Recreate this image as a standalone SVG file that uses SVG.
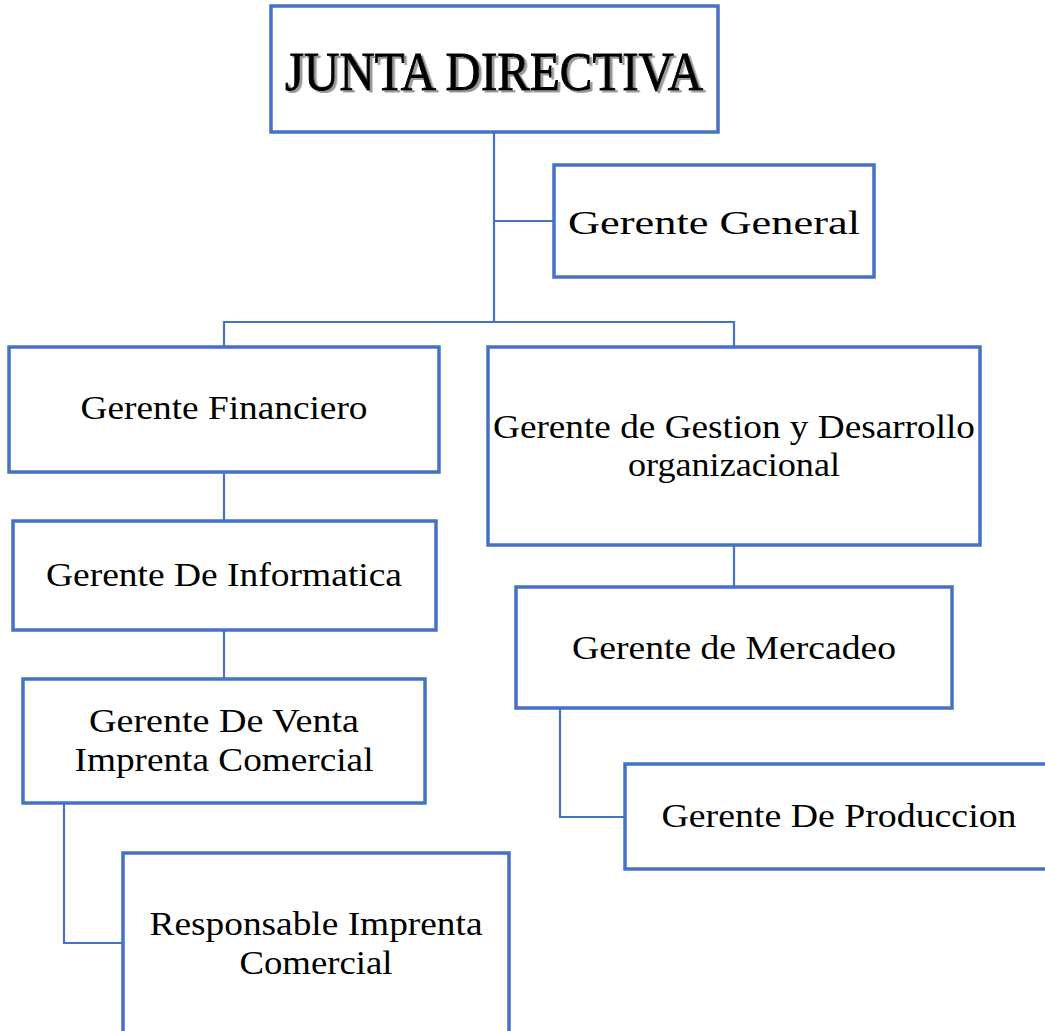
<svg xmlns="http://www.w3.org/2000/svg" width="1045" height="1031" viewBox="0 0 1045 1031">
<style>
.box{fill:#fff;stroke:#4472C4;stroke-width:3.5}
.conn{fill:none;stroke:#4472C4;stroke-width:2.2}
.t{font-family:"Liberation Serif","Times New Roman",serif;font-size:33px;fill:#000;text-anchor:middle}
.title{font-family:"Liberation Serif","Times New Roman",serif;font-size:54px;fill:#000;stroke:#000;stroke-width:1;text-anchor:middle}
</style>
<defs>
<filter id="sh" x="-5%" y="-20%" width="110%" height="140%">
<feDropShadow dx="2.5" dy="2" stdDeviation="0" flood-color="#999"/>
</filter>
</defs>
<rect width="1045" height="1031" fill="#fff"/>
<g id="connectors">
<path class="conn" d="M494 132V322M494 221H554M224 347V322H734V347"/>
<path class="conn" d="M224 472V521M224 630V679"/>
<path class="conn" d="M64 803V943H123"/>
<path class="conn" d="M734 545V587"/>
<path class="conn" d="M560 708V817H625"/>
</g>
<g id="junta"><rect class="box" x="271" y="6" width="447" height="126"/><text class="title" x="494" y="90" textLength="418" lengthAdjust="spacingAndGlyphs" filter="url(#sh)">JUNTA DIRECTIVA</text></g>
<g id="general"><rect class="box" x="554" y="165" width="320" height="112"/><text class="t" x="714" y="234" font-size="38" textLength="292" lengthAdjust="spacingAndGlyphs">Gerente  General</text></g>
<g id="financiero"><rect class="box" x="9" y="347" width="430" height="125"/><text class="t" x="224" y="419" textLength="287" lengthAdjust="spacingAndGlyphs">Gerente Financiero</text></g>
<g id="gestion"><rect class="box" x="488" y="347" width="492" height="198"/><text class="t" x="734" y="438" textLength="482" lengthAdjust="spacingAndGlyphs">Gerente de Gestion y Desarrollo</text><text class="t" x="734" y="476" textLength="212" lengthAdjust="spacingAndGlyphs">organizacional</text></g>
<g id="informatica"><rect class="box" x="13" y="521" width="423" height="109"/><text class="t" x="224" y="586" textLength="356" lengthAdjust="spacingAndGlyphs">Gerente De Informatica</text></g>
<g id="venta"><rect class="box" x="23" y="679" width="402" height="124"/><text class="t" x="224" y="732" textLength="270" lengthAdjust="spacingAndGlyphs">Gerente De Venta</text><text class="t" x="224" y="771" textLength="299" lengthAdjust="spacingAndGlyphs">Imprenta Comercial</text></g>
<g id="responsable"><rect class="box" x="123" y="853" width="386" height="200"/><text class="t" x="316" y="935" textLength="333" lengthAdjust="spacingAndGlyphs">Responsable Imprenta</text><text class="t" x="316" y="974" textLength="153" lengthAdjust="spacingAndGlyphs">Comercial</text></g>
<g id="mercadeo"><rect class="box" x="516" y="587" width="436" height="121"/><text class="t" x="734" y="659" textLength="324" lengthAdjust="spacingAndGlyphs">Gerente de Mercadeo</text></g>
<g id="produccion"><rect class="box" x="625" y="764" width="440" height="105"/><text class="t" x="839" y="827" textLength="355" lengthAdjust="spacingAndGlyphs">Gerente De Produccion</text></g>
</svg>
